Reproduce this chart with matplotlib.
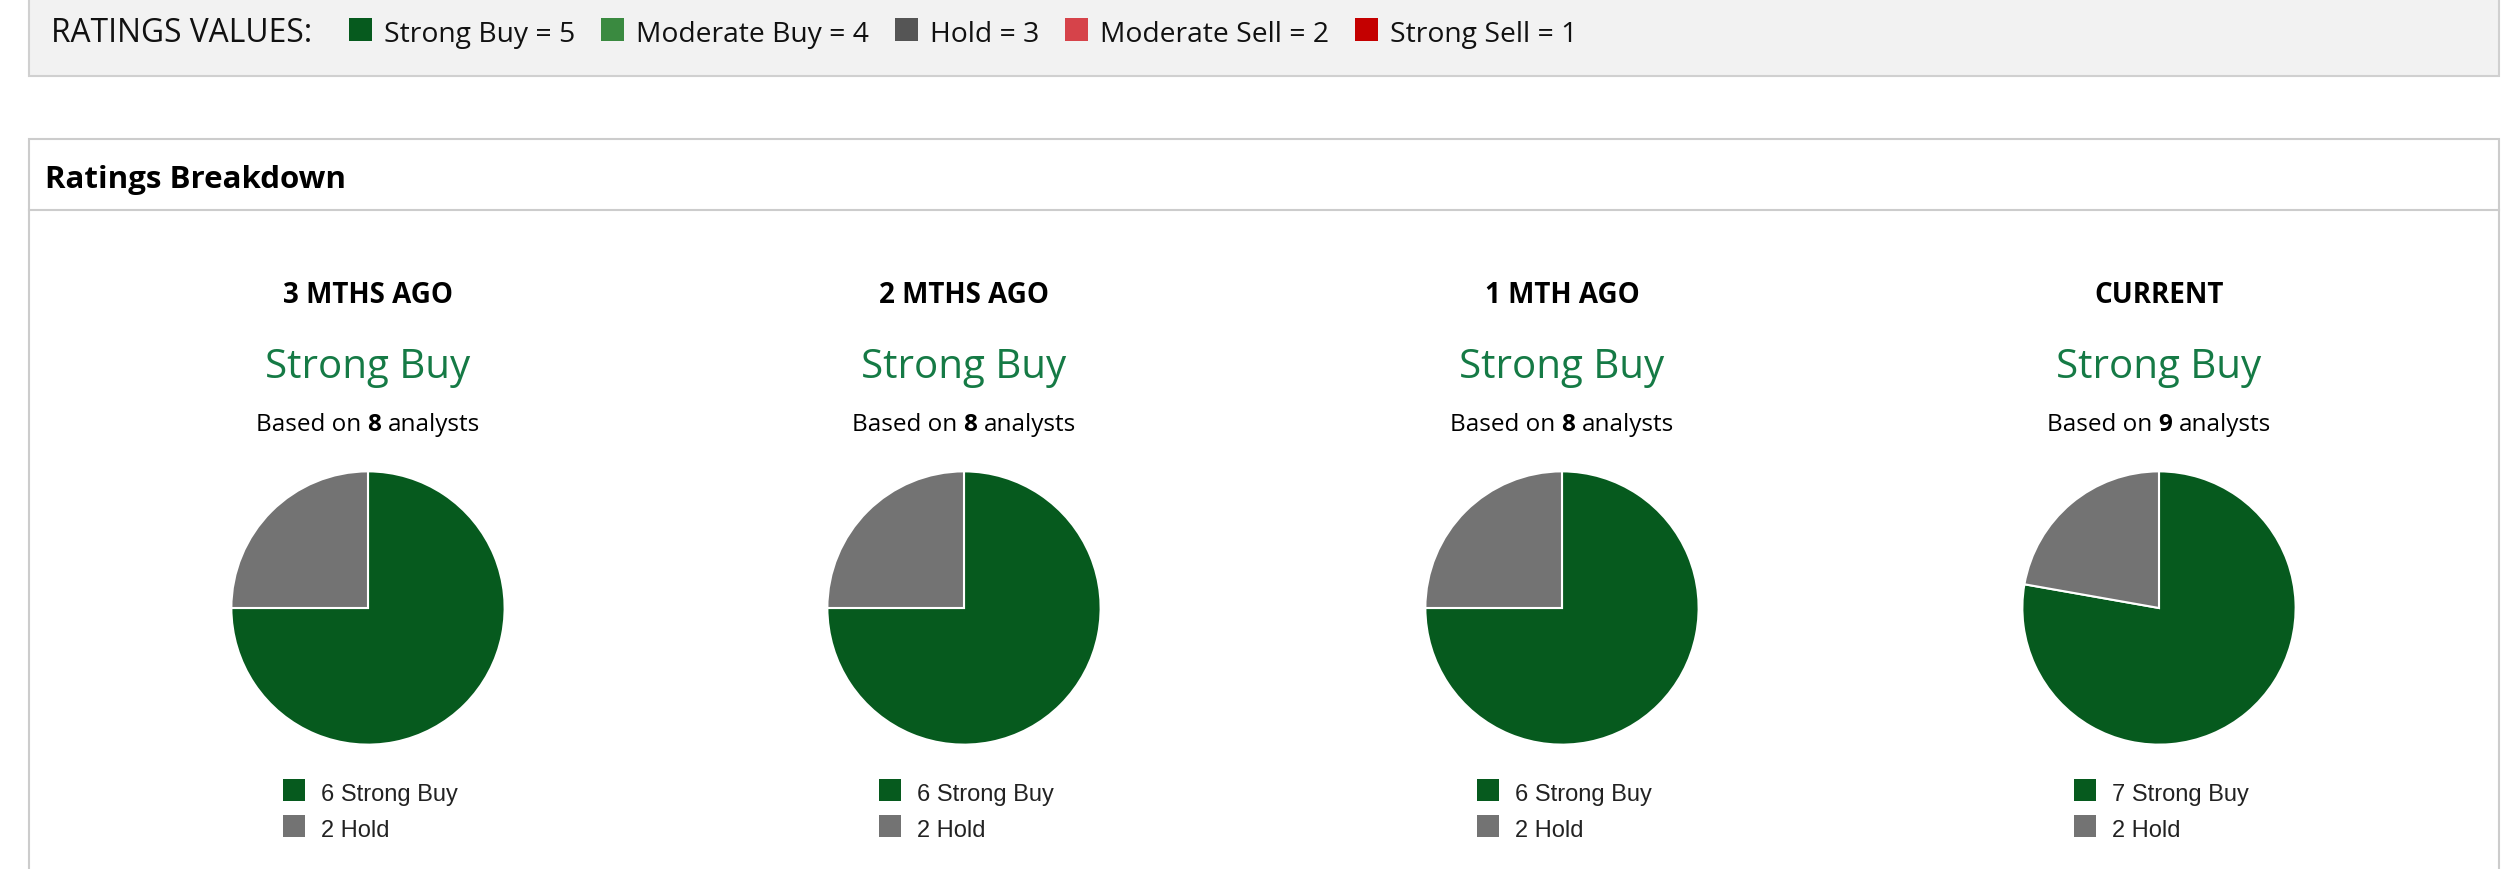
import matplotlib
matplotlib.use('Agg')
import matplotlib.pyplot as plt
from matplotlib.patches import Rectangle

# Data
rating_labels = ['Strong Buy = 5', 'Moderate Buy = 4', 'Hold = 3', 'Moderate Sell = 2', 'Strong Sell = 1']
rating_colors = ['#065a1e', '#3a8a40', '#555555', '#d6434a', '#c40000']
periods = ['3 MTHS AGO', '2 MTHS AGO', '1 MTH AGO', 'CURRENT']
consensus = ['Strong Buy', 'Strong Buy', 'Strong Buy', 'Strong Buy']
n_analysts = [8, 8, 8, 9]
strong_buy = [6, 6, 6, 7]
hold = [2, 2, 2, 2]

W, H = 2512, 870
SANS = ['Open Sans', 'DejaVu Sans']
ARIAL = ['Liberation Sans', 'DejaVu Sans']
GREEN = '#065a1e'
GRAY = '#737373'
TXTGREEN = '#157a45'
BORDER = '#cccccc'

fig = plt.figure(figsize=(W / 100, H / 100), dpi=100)
fig.patch.set_facecolor('white')
ax = fig.add_axes([0, 0, 1, 1])
ax.set_xlim(0, W)
ax.set_ylim(H, 0)
ax.axis('off')
renderer = fig.canvas.get_renderer()


def width(t):
    return t.get_window_extent(renderer).width


# top ratings bar
ax.add_patch(Rectangle((29, -5), 2470, 82, facecolor='#f2f2f2', edgecolor='#d0d0d0', lw=1.5))
ax.text(51, 42, 'RATINGS VALUES:', fontsize=22.9, family=SANS, va='baseline', color='#111111')
x = 349
for lab, col in zip(rating_labels, rating_colors):
    ax.add_patch(Rectangle((x, 19), 23, 23, facecolor=col, edgecolor='none'))
    t = ax.text(x + 35, 42, lab, fontsize=20.3, family=SANS, va='baseline', color='#111111')
    x = x + 35 + width(t) + 26

# breakdown panel
ax.add_patch(Rectangle((29, 140), 2470, 800, facecolor='white', edgecolor=BORDER, lw=1.5))
ax.plot([29, 2499], [211, 211], color=BORDER, lw=1.5)
ax.text(45, 188, 'Ratings Breakdown', fontsize=22.5, family=SANS, weight='bold', va='baseline')

centers = [368, 964, 1562, 2159]
radius = 138
cy = 609

# width of one space at the "Based on" size
sp = ax.text(100, 100, 'x x', fontsize=17.5, family=SANS)
sp2 = ax.text(100, 100, 'xx', fontsize=17.5, family=SANS)
space = width(sp) - width(sp2)
sp.remove()
sp2.remove()

for i, cx in enumerate(centers):
    ax.text(cx, 303, periods[i], fontsize=20, family=SANS, weight='bold', ha='center', va='baseline')
    ax.text(cx, 378, consensus[i], fontsize=29, family=SANS, color=TXTGREEN, ha='center', va='baseline')

    # "Based on N analysts" with bold count
    parts = [('Based on', 'normal'), (str(n_analysts[i]), 'bold'), ('analysts', 'normal')]
    texts = [ax.text(0, 431, s, fontsize=17.5, family=SANS, weight=w, va='baseline') for s, w in parts]
    total = sum(width(tt) for tt in texts) + 2 * space
    xx = cx - total / 2
    for tt in texts:
        tt.set_x(xx)
        xx += width(tt) + space

    pax = fig.add_axes([(cx - radius) / W, 1 - (cy + radius) / H, 2 * radius / W, 2 * radius / H])
    pax.pie([strong_buy[i], hold[i]], colors=[GREEN, GRAY], startangle=90, counterclock=False,
            radius=1, wedgeprops=dict(edgecolor='white', linewidth=1.5))
    pax.set_xlim(-1.01, 1.01)
    pax.set_ylim(-1.01, 1.01)
    pax.set_aspect('equal')

    # legend under the pie
    lx = cx - 85
    for row, (val, lab, col) in enumerate([(strong_buy[i], 'Strong Buy', GREEN), (hold[i], 'Hold', GRAY)]):
        y0 = 780 + row * 36
        ax.add_patch(Rectangle((lx, y0), 22, 22, facecolor=col, edgecolor='none'))
        ax.text(lx + 38, y0 + 21, f'{val} {lab}', fontsize=17, family=ARIAL, va='baseline', color='#222222')

fig.savefig('out.png', dpi=100, facecolor='white')
